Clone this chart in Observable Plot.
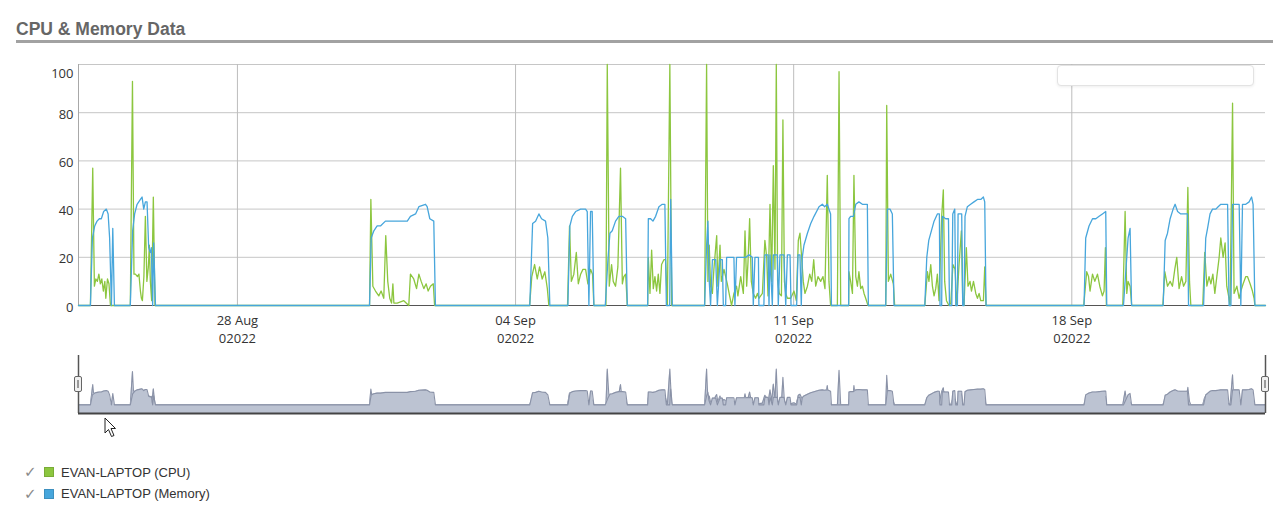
<!DOCTYPE html>
<html><head><meta charset="utf-8">
<script src="https://cdn.jsdelivr.net/npm/d3@7"></script>
<script src="https://cdn.jsdelivr.net/npm/@observablehq/plot@0.6"></script>
<style>
html,body{margin:0;padding:0;background:#fff;}
body{width:1286px;height:516px;position:relative;overflow:hidden;font-family:"Liberation Sans",Arial,sans-serif;}
#main,#nav{position:absolute;left:0;}
#main{top:0;} #nav{top:345px;}
#main svg,#nav svg{background:transparent;}
#title{position:absolute;left:16px;top:19px;font-size:17.5px;line-height:20px;font-weight:bold;color:#666;z-index:3;}
#rule{position:absolute;left:16px;top:40px;width:1257px;height:3px;background:#a2a2a2;z-index:3;}
#tip{position:absolute;left:1057px;top:65px;width:195px;height:19px;background:#fff;border:1px solid #e3e3e3;border-radius:4px;box-shadow:0 1px 3px rgba(0,0,0,0.07);z-index:3;}
.handle{position:absolute;top:376px;width:6px;height:14px;background:#f0f0f0;border:1px solid #666;border-radius:2px;z-index:3;}
.handle::after{content:"";position:absolute;left:2px;top:3px;width:2px;height:8px;background:#999;}
.item{position:absolute;left:24px;height:20px;display:flex;align-items:center;font-size:13px;color:#333;z-index:3;}
.check{width:20px;color:#8a8a8a;font-size:15px;font-family:"DejaVu Sans",sans-serif;}
.sw{width:10px;height:10px;margin-right:7px;box-sizing:border-box;}
#cursor{position:absolute;left:104px;top:417px;z-index:4;}
</style></head>
<body>
<div id="main"></div>
<div id="nav"></div>
<div id="title">CPU &amp; Memory Data</div>
<div id="rule"></div>
<div id="tip"></div>
<div id="legend"></div>
<svg id="cursor" width="14" height="22"><path d="M1 1 L1 16 L4.5 12.5 L7.5 19.5 L10 18.5 L7 11.5 L11.5 11.5 Z" fill="#fff" stroke="#222" stroke-width="1"/></svg>
<script>
// ---- data (hours since 2022-08-24 00:00 UTC) ----
const seriesNames = ["EVAN-LAPTOP (CPU)", "EVAN-LAPTOP (Memory)"];
const seriesColors = ["#8cc63f", "#47a6dc"];
const yTicks = [0, 20, 40, 60, 80, 100];
const tickDates = ["2022-08-28", "2022-09-04", "2022-09-11", "2022-09-18"];
const tickDay = ["28 Aug", "04 Sep", "11 Sep", "18 Sep"];
const tickYear = ["02022", "02022", "02022", "02022"];

const memHours = [0,
7.2,8.4,9.8,11.2,12.6,13.8,15.2,16.8,17.9,18.8,19.9,20.7,21.7,
31.3,32.7,33.9,35.4,37.4,38.4,39.4,40.4,41.4,42.4,43.4,44.0,44.8,45.4,46.5,
175.8,176.8,178.4,180.4,182.4,185.4,188.5,192.5,198.6,200.5,203.6,205.6,209.6,210.6,212.2,214.6,215.6,
272.6,274.3,276.1,278.1,279.7,282.1,283.5,284.7,
295.6,296.8,298.3,300.3,303.3,306.3,307.3,308.3,309.3,310.3,311.3,
318.2,319.8,321.0,322.4,324.4,326.4,328.5,330.5,331.5,
343.8,344.2,345.6,347.0,348.6,350.6,352.6,354.2,355.1,357.1,357.7,358.7,
378.2,379.4,380.2,381.0,381.8,382.9,384.9,385.9,387.5,388.9,389.5,390.9,391.5,395.9,396.5,397.5,403.0,405.0,407.0,407.6,408.6,410.7,411.0,414.0,414.6,416.5,417.1,417.7,419.1,419.7,422.1,422.7,423.7,426.1,427.2,428.2,429.8,430.4,433.8,434.6,435.8,436.6,437.2,438.2,440.3,442.3,444.3,447.3,449.3,450.7,452.3,454.3,454.8,465.2,465.4,466.4,468.1,469.5,471.4,473.5,476.5,477.1,
487.6,488.6,490.2,491.6,492.6,
511.2,512.4,513.6,514.8,516.8,518.8,520.0,520.4,521.4,521.8,523.8,525.5,526.1,527.5,528.1,529.3,529.9,530.9,531.3,533.5,534.1,534.9,535.5,536.9,538.9,540.9,543.0,545.0,546.6,547.4,548.2,
607.4,608.4,610.4,612.5,614.5,616.5,618.5,620.5,621.1,
631.2,633.2,634.0,635.2,636.1,
655.2,656.4,657.8,659.4,661.2,662.4,663.9,665.8,669.9,670.5,
679.6,680.9,682.0,683.5,685.0,687.0,688.4,690.0,694.1,695.0,696.1,697.1,701.1,702.1,703.1,705.1,707.1,708.6,709.5,710.6,
717];
const memValues = [0,
0,28,33,35,36,36,39,40,38,28,0,32,0,
0,31,38,42,44,45,40,43,43,24,22,24,0,26,0,
0,28,31,33,33,35,35,35,35,37,38,41,42,41,36,35,0,
0,34,35,38,36,35,28,0,
0,33,37,39,40,40,39,0,39,39,0,
0,19,30,31,35,37,37,36,0,
0,36,36,35,37,41,42,42,0,0,44,0,
0,25,35,10,0,19,19,0,19,19,0,0,20,20,0,20,20,21,20,0,20,20,0,0,21,21,0,21,0,21,21,0,21,21,0,21,21,0,0,21,21,0,20,25,30,34,37,41,42,41,42,38,0,0,36,37,37,42,43,42,42,0,
0,40,40,38,0,
0,20,27,30,35,38,38,0,0,37,36,36,0,0,38,40,0,0,38,38,0,0,37,41,42,43,44,44,45,43,0,
0,28,33,36,36,37,38,39,0,
0,20,28,32,0,
0,27,30,36,40,42,39,38,38,0,
0,28,32,38,40,40,41,42,42,0,0,42,42,0,42,42,43,45,42,0,
0];

const cpuHours = [0,
7.2,8.6,9.6,10.5,11.4,12.3,13.2,14.1,15.0,15.9,16.5,17.5,18.4,19.3,
31.3,32.6,33.5,34.4,35.6,36.5,37.4,38.0,38.6,39.5,40.4,41.3,42.2,42.8,43.4,44.2,45.2,46.2,
175.8,176.6,177.8,179.4,181.4,182.8,184.4,185.6,186.8,188.0,189.1,189.9,190.5,192.5,196.5,199.5,200.5,202.5,204.2,205.6,207.0,208.6,210.0,211.2,212.6,214.3,215.1,
272.5,273.8,275.5,277.1,278.5,280.1,281.7,283.2,284.1,
295.4,296.6,297.7,299.2,300.7,301.9,303.3,304.7,306.3,307.7,309.3,310.5,311.3,
318.6,319.4,320.6,322.0,323.0,324.4,325.8,327.4,328.5,329.4,330.5,331.5,
343.8,344.2,345.2,346.2,347.2,348.2,349.2,350.2,351.2,352.2,353.6,354.6,355.7,357.2,358.3,
378.2,379.4,380.2,381.0,381.8,382.9,383.8,385.5,386.2,387.5,388.3,389.9,390.9,391.9,393.3,394.5,395.9,397.5,398.3,400.0,401.6,402.6,403.6,404.4,405.4,406.4,407.6,409.0,410.1,411.0,413.1,414.6,415.7,416.5,417.7,418.7,419.7,420.7,421.5,422.3,423.3,424.6,425.5,426.4,427.2,428.2,430.2,432.2,433.6,434.8,435.8,436.8,437.8,438.8,440.3,441.7,442.9,444.1,445.3,446.7,448.3,449.7,450.9,452.3,453.3,454.3,458.4,459.4,460.4,465.2,465.4,466.4,467.5,468.4,469.5,470.5,471.4,472.5,473.5,474.5,475.5,476.9,
487.6,488.2,489.2,490.6,492.2,493.0,
511.2,512.8,513.7,514.8,515.8,516.8,517.8,518.8,519.8,521.4,522.4,523.2,524.3,525.8,526.9,528.2,529.5,530.5,531.9,533.3,534.1,534.9,536.3,537.3,538.5,539.4,540.6,542.0,543.0,544.0,545.0,546.6,547.4,548.2,
607.2,609.0,610.1,611.0,612.5,613.9,615.5,616.9,618.5,619.5,620.3,620.9,
630.8,632.2,633.2,634.0,635.2,636.2,
655.0,656.2,657.8,659.4,660.8,662.2,663.4,664.8,666.3,667.5,668.9,670.1,671.1,671.9,
679.1,680.3,681.6,682.9,684.0,685.2,686.4,687.6,689.0,690.0,691.4,692.6,693.6,694.7,695.6,697.1,698.0,699.7,701.1,702.1,703.5,705.1,706.1,707.7,709.1,710.1,710.6,
717];
const cpuValues = [0,
0,57,8,11,10,13,9,11,6,10,3,11,9,0,
0,93,13,13,12,13,6,3,2,12,37,10,16,25,10,2,45,0,
0,44,8,6,4,6,3,29,10,3,1,9,1,1,2,0,13,11,7,13,10,7,9,6,8,9,0,
0,12,17,11,16,11,14,7,0,
0,33,10,13,22,9,13,15,15,9,15,13,0,
0,100,8,17,10,8,16,57,9,12,13,0,
0,20,5,23,7,12,6,13,5,17,19,19,0,100,0,
0,100,10,25,8,5,15,29,8,25,10,15,12,9,4,0,5,8,4,12,5,31,8,18,36,10,5,3,5,3,5,27,20,4,42,10,58,15,100,10,5,4,77,10,5,3,3,6,2,27,30,20,10,5,8,13,10,19,8,12,10,12,7,54,10,0,0,97,0,0,14,10,5,54,12,8,14,7,8,5,3,0,
0,83,10,13,9,0,
0,14,10,17,8,4,7,13,2,37,48,10,2,0,1,17,15,0,17,31,3,0,24,8,10,6,10,5,3,5,2,2,16,0,
0,14,12,6,13,10,13,8,4,6,24,0,
0,39,5,10,8,0,
0,14,8,10,8,15,20,7,12,8,10,49,10,0,
0,22,8,12,9,13,5,12,20,28,20,26,8,4,0,84,5,8,3,6,9,12,12,9,6,3,0,
0];

// ---- build ----
const t0 = Date.UTC(2022, 7, 24);
const toDate = h => new Date(t0 + h * 36e5);
const cpu = cpuHours.map((h, i) => ({t: toDate(h), v: cpuValues[i]}));
const mem = memHours.map((h, i) => ({t: toDate(h), v: memValues[i]}));
const xDomain = d3.extent([...cpu, ...mem], d => d.t);
const tickRows = tickDates.map((s, i) => ({t: new Date(s + "T00:00:00Z"), day: tickDay[i], year: tickYear[i]}));
const yMax = d3.max(yTicks);
const textColor = "#333";

const main = Plot.plot({
  width: 1286, height: 360,
  marginLeft: 78, marginRight: 21, marginTop: 64, marginBottom: 55,
  style: {fontFamily: "'Open Sans', sans-serif", fontSize: "13px", color: textColor, background: "transparent", overflow: "visible"},
  x: {type: "utc", domain: xDomain, axis: null},
  y: {domain: [0, yMax]},
  marks: [
    Plot.gridY(yTicks, {stroke: "#c6c6c6", strokeOpacity: 1}),
    Plot.gridX(tickRows.map(d => d.t), {stroke: "#bdbdbd", strokeOpacity: 1}),
    Plot.ruleX([xDomain[0]], {stroke: "#a8a8a8"}),
    Plot.ruleY([0], {stroke: "#555"}),
    Plot.line(cpu, {x: "t", y: "v", stroke: seriesColors[0], strokeWidth: 1.3}),
    Plot.line(mem, {x: "t", y: "v", stroke: seriesColors[1], strokeWidth: 1.3}),
    Plot.axisY(yTicks.filter(v => v < yMax), {tickSize: 0, tickPadding: 5, dy: 2, label: null, fill: textColor}),
    Plot.axisY(yTicks.filter(v => v === yMax), {tickSize: 0, tickPadding: 5, dy: 9, label: null, fill: textColor}),
    Plot.text(tickRows, {x: "t", text: "day", frameAnchor: "bottom", lineAnchor: "top", dy: 10, fill: textColor}),
    Plot.text(tickRows, {x: "t", text: "year", frameAnchor: "bottom", lineAnchor: "top", dy: 28.5, fill: textColor})
  ]
});
document.getElementById("main").append(main);

const navDomain = [-24, 138];
const navFill = "#bcc3d2", navStroke = "#8a92a7";
const nav = Plot.plot({
  width: 1286, height: 80,
  marginLeft: 78, marginRight: 21, marginTop: 10, marginBottom: 12,
  style: {background: "transparent", overflow: "visible"},
  x: {type: "utc", domain: xDomain, axis: null},
  y: {domain: navDomain, axis: null},
  marks: [
    Plot.areaY(cpu, {x: "t", y1: navDomain[0], y2: "v", fill: navFill}),
    Plot.line(cpu, {x: "t", y: "v", stroke: navStroke, strokeWidth: 1.1}),
    Plot.areaY(mem, {x: "t", y1: navDomain[0], y2: "v", fill: navFill}),
    Plot.line(mem, {x: "t", y: "v", stroke: navStroke, strokeWidth: 1.1}),
    Plot.ruleX(xDomain, {stroke: "#555", strokeWidth: 1.5}),
    Plot.ruleY([navDomain[0]], {stroke: "#444", strokeWidth: 2})
  ]
});
document.getElementById("nav").append(nav);

// navigator handles at both ends of the x range
const xs = d3.scaleUtc().domain(xDomain).range([78, 1286 - 21]);
xDomain.forEach(d => {
  const h = document.createElement("div");
  h.className = "handle";
  h.style.left = (xs(d) - 4) + "px";
  document.body.append(h);
});

// legend
const legend = document.getElementById("legend");
seriesNames.forEach((name, i) => {
  const row = document.createElement("div");
  row.className = "item";
  row.style.top = (462 + i * 21.5) + "px";
  row.innerHTML = `<span class="check">✓</span><span class="sw" style="background:${seriesColors[i]};border:1px solid ${d3.color(seriesColors[i]).darker(0.4)}"></span><span>${name}</span>`;
  legend.append(row);
});
</script>
</body></html>
